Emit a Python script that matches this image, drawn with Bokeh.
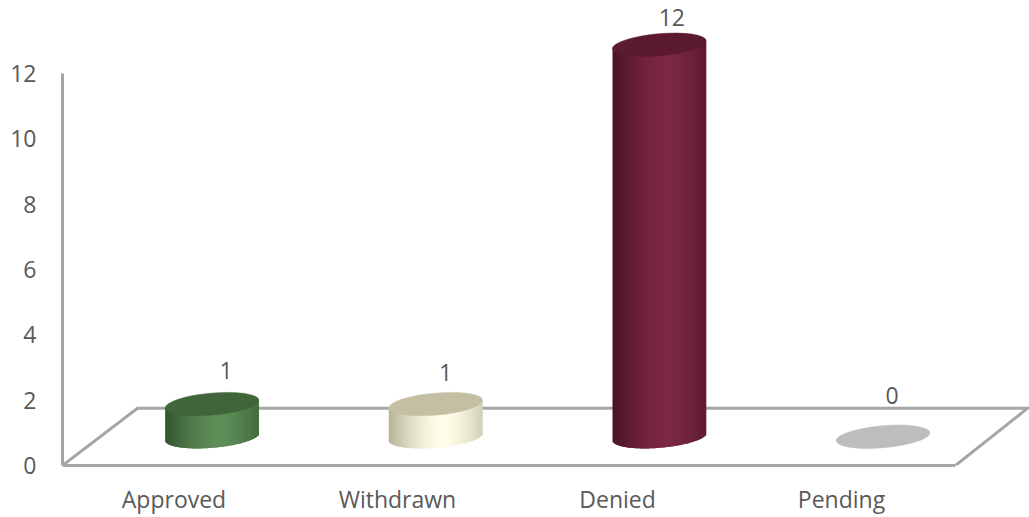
import numpy as np
from bokeh.embed import file_html
from bokeh.models import ColumnDataSource, FixedTicker, Range1d
from bokeh.plotting import figure
from bokeh.resources import INLINE

categories = ["Approved", "Withdrawn", "Denied", "Pending"]
values = [1, 1, 12, 0]
y_ticks = [0, 2, 4, 6, 8, 10, 12]

# colours per cylinder: shaded edge, lit centre, top cap
edge_colors = ["#33532d", "#b5b298", "#491425", "#bdbdbd"]
lit_colors = ["#5e8e58", "#fffee8", "#7c2843", "#bdbdbd"]
cap_colors = ["#41653a", "#c4bfa3", "#5c1a2f", "#bdbdbd"]

WIDTH, HEIGHT = 1029, 517
LEFT, BOTTOM = 62, 52
PX_PER_UNIT = 392 / 12
PX_PER_CAT = 223.67
FIRST_CAT_PX = 211.5

# the cylinders stand on a floor drawn in perspective
FLOOR_LIFT = 0.88
BACK_LEVEL = 1.75
BACK_LEFT_PX, FRONT_RIGHT_PX, BACK_RIGHT_PX = 137, 955, 1027

# ellipse of a cylinder end, in screen pixels
SEMI_A, SEMI_B, TILT = 47, 11, np.radians(5)

# data label nudges from the top of each cylinder, in screen pixels
label_dx = [14, 10, 12.5, 9]
label_dy = [34, 32, 27, 41]
# category labels sit left of their cylinders on the sloped floor, in screen pixels
category_shift_px = [-38, -38.2, -41.8, -41.5]


def px_to_x(px):
    return (px - FIRST_CAT_PX) / PX_PER_CAT


def mix(c1, c2, t):
    a = [int(c1[i:i + 2], 16) for i in (1, 3, 5)]
    b = [int(c2[i:i + 2], 16) for i in (1, 3, 5)]
    return "#%02x%02x%02x" % tuple(round(u + (v - u) * t) for u, v in zip(a, b))


def lower_edge(dx):
    """Lower boundary (pixels, up positive) of the tilted end ellipse at offset dx."""
    s, c = np.sin(TILT), np.cos(TILT)
    A = c * c / SEMI_A**2 + s * s / SEMI_B**2
    B = s * c * (1 / SEMI_A**2 - 1 / SEMI_B**2)
    C = s * s / SEMI_A**2 + c * c / SEMI_B**2
    disc = np.maximum(B * B * dx * dx - C * (A * dx * dx - 1), 0)
    return (-B * dx - np.sqrt(disc)) / C


p = figure(
    width=WIDTH, height=HEIGHT, output_backend="svg", toolbar_location=None,
    x_range=Range1d(px_to_x(LEFT), px_to_x(WIDTH)),
    y_range=Range1d(0, (HEIGHT - BOTTOM) / PX_PER_UNIT),
    min_border_left=LEFT, min_border_bottom=BOTTOM,
    min_border_top=0, min_border_right=0,
    background_fill_color="white", border_fill_color="white",
)
p.outline_line_color = None
p.grid.visible = False

AXIS_COLOR = "#a6a6a6"
TEXT_COLOR = "#595959"
FONT = "Open Sans"
FONT_SIZE = "23px"

yax = p.yaxis[0]
yax.ticker = FixedTicker(ticks=y_ticks)
yax.bounds = (0, 12)
yax.major_label_standoff = 20

category_ticks = [i + s / PX_PER_CAT for i, s in enumerate(category_shift_px)]
xax = p.xaxis[0]
xax.ticker = FixedTicker(ticks=category_ticks)
xax.major_label_overrides = dict(zip(category_ticks, categories))
xax.bounds = (px_to_x(LEFT), px_to_x(FRONT_RIGHT_PX))
xax.major_label_standoff = 11

for ax in (xax, yax):
    ax.axis_line_color = AXIS_COLOR
    ax.axis_line_width = 3
    ax.major_tick_line_color = None
    ax.minor_tick_line_color = None
    ax.major_label_text_color = TEXT_COLOR
    ax.major_label_text_font = FONT
    ax.major_label_text_font_size = FONT_SIZE

# floor outline behind the cylinders
p.line(
    [px_to_x(LEFT), px_to_x(BACK_LEFT_PX), px_to_x(BACK_RIGHT_PX), px_to_x(FRONT_RIGHT_PX)],
    [0, BACK_LEVEL, BACK_LEVEL, 0],
    line_color=AXIS_COLOR, line_width=3, line_join="miter",
)

half_w = np.sqrt((SEMI_A * np.cos(TILT))**2 + (SEMI_B * np.sin(TILT))**2)
edges = np.linspace(-half_w, half_w, 96)
mids = (edges[:-1] + edges[1:]) / 2
# each strip reaches over its neighbour so no seams show between them
reach = np.minimum(edges[1:] + 1.0, half_w)

for i, v in enumerate(values):
    if v > 0:
        # cylinder wall as thin vertical strips with a horizontal shading ramp
        shade = np.abs(mids - half_w * 0.15) / (half_w * 1.15)
        wall_edge = lower_edge(mids) / PX_PER_UNIT
        strips = ColumnDataSource(dict(
            left=i + edges[:-1] / PX_PER_CAT,
            right=i + reach / PX_PER_CAT,
            bottom=FLOOR_LIFT + wall_edge,
            top=FLOOR_LIFT + v + wall_edge + 2 / PX_PER_UNIT,
            color=[mix(lit_colors[i], edge_colors[i], float(t**1.6)) for t in shade],
        ))
        p.quad(left="left", right="right", bottom="bottom", top="top", source=strips,
               fill_color="color", line_color=None)
    # top cap
    p.ellipse(x=[i], y=[FLOOR_LIFT + v], width=2 * SEMI_A, height=2 * SEMI_B, angle=TILT,
              width_units="screen", height_units="screen",
              fill_color=cap_colors[i], line_color=cap_colors[i], line_width=0.5)

labels = ColumnDataSource(dict(
    x=list(range(len(values))),
    y=[FLOOR_LIFT + v for v in values],
    text=[str(v) for v in values],
    dx=label_dx,
    dy=[-d for d in label_dy],
))
p.text(x="x", y="y", text="text", x_offset="dx", y_offset="dy", source=labels,
       text_align="center", text_baseline="middle", text_color=TEXT_COLOR,
       text_font={"value": FONT}, text_font_size={"value": FONT_SIZE})

open("out.html", "w").write(file_html(p, INLINE))
